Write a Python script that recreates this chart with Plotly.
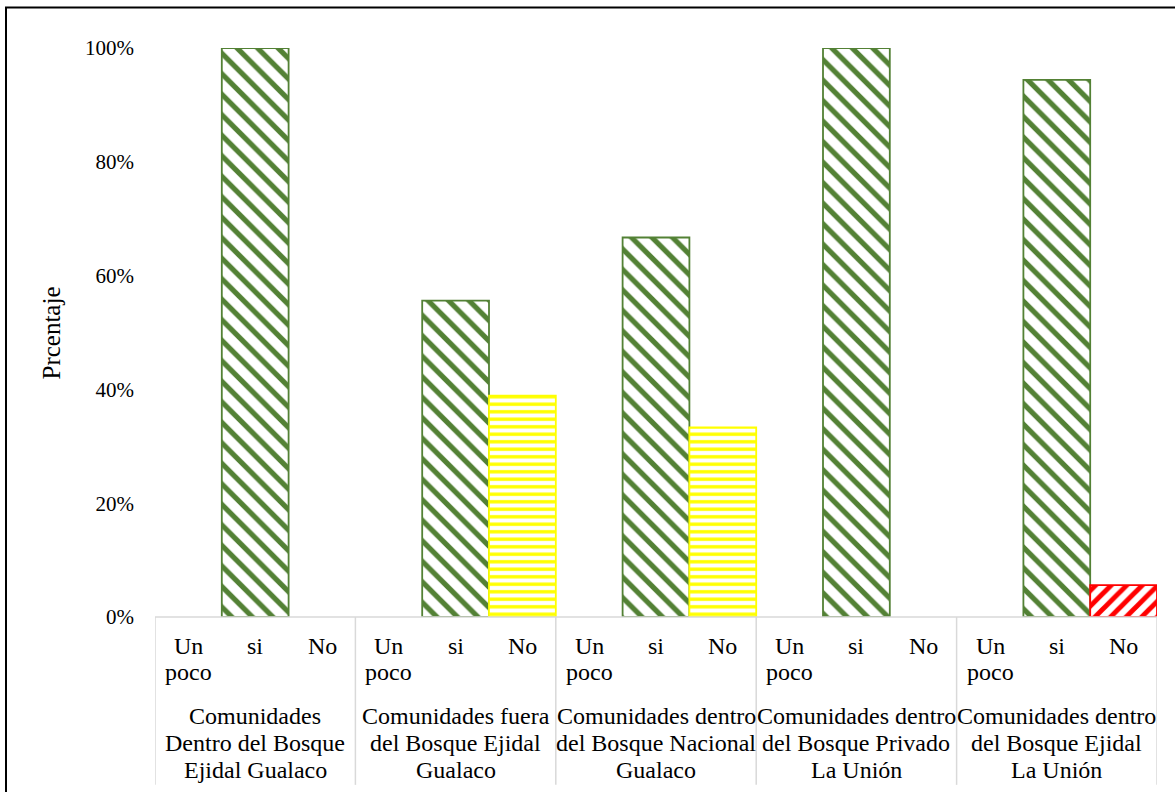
import plotly.graph_objects as go

# Survey groups (one entry per text line on the category axis)
groups = [
    ["Comunidades", "Dentro del Bosque", "Ejidal Gualaco"],
    ["Comunidades fuera", "del Bosque Ejidal", "Gualaco"],
    ["Comunidades dentro", "del Bosque Nacional", "Gualaco"],
    ["Comunidades dentro", "del Bosque Privado", "La Unión"],
    ["Comunidades dentro", "del Bosque Ejidal", "La Unión"],
]
answers = ["Un poco", "si", "No"]
answer_lines = [["Un", "poco"], ["si"], ["No"]]

# Share of answers per group
un_poco_values = [0.0, 0.0, 0.0, 0.0, 0.0]
si_values = [1.0, 0.556, 0.667, 1.0, 0.944]
no_values = [0.0, 0.389, 0.333, 0.0, 0.056]

y_ticks = [0, 0.2, 0.4, 0.6, 0.8, 1.0]
y_tick_text = ["0%", "20%", "40%", "60%", "80%", "100%"]
y_title = "Prcentaje"

# Styling
GREEN = "#538135"
YELLOW = "#FFFF00"
RED = "#FF0000"
FONT = "Liberation Serif"
TICK_FS = 21
CAT_FS = 24
TITLE_FS = 25
no_colors = [YELLOW, YELLOW, YELLOW, YELLOW, RED]
no_shapes = ["-", "-", "-", "-", "/"]
no_sizes = [7.5, 7.5, 7.5, 7.5, 11]
no_solid = [0.45, 0.45, 0.45, 0.45, 0.45]

n_ans = len(answers)
n_grp = len(groups)

# Plot-area geometry in pixels (used to convert label rows to paper units)
PLOT_TOP = 47.5
PLOT_BOTTOM = 617.0
PLOT_H = PLOT_BOTTOM - PLOT_TOP


def py(pixel_y):
    return (PLOT_BOTTOM - pixel_y) / PLOT_H


def slot(g, a):
    return g * n_ans + a


def visible(values):
    return [g for g, v in enumerate(values) if v > 0]


fig = go.Figure()

idx = visible(un_poco_values)
fig.add_trace(go.Bar(
    x=[slot(g, 0) for g in idx], y=[un_poco_values[g] for g in idx], width=1.0,
    name="Un poco", marker=dict(color="white", line=dict(color=GREEN, width=1.5)),
))

idx = visible(si_values)
fig.add_trace(go.Bar(
    x=[slot(g, 1) for g in idx], y=[si_values[g] for g in idx], width=1.0,
    name="si",
    marker=dict(
        color="white",
        line=dict(color=GREEN, width=1.8),
        pattern=dict(shape="\\", fgcolor=GREEN, fgopacity=1, bgcolor="white",
                     size=14.5, solidity=0.36, fillmode="overlay"),
    ),
))

idx = visible(no_values)
fig.add_trace(go.Bar(
    x=[slot(g, 2) for g in idx], y=[no_values[g] for g in idx], width=1.0,
    name="No",
    marker=dict(
        color="white",
        line=dict(color=[no_colors[g] for g in idx], width=1.8),
        pattern=dict(shape=[no_shapes[g] for g in idx],
                     fgcolor=[no_colors[g] for g in idx], fgopacity=1,
                     bgcolor="white",
                     size=[no_sizes[g] for g in idx],
                     solidity=[no_solid[g] for g in idx], fillmode="overlay"),
    ),
))

# Two-level category labels and group dividers
ANSWER_ROWS = [646, 672]
GROUP_ROWS = [716, 743, 770]
annotations = []
shapes = []


def label(x, ypix, text, size):
    return dict(
        x=x, y=py(ypix), xref="x", yref="paper", text=text, showarrow=False,
        xanchor="center", yanchor="middle",
        font=dict(family=FONT, size=size, color="black"),
    )


for g, glines in enumerate(groups):
    for a, lines in enumerate(answer_lines):
        for row, line in enumerate(lines):
            annotations.append(label(slot(g, a), ANSWER_ROWS[row], line, CAT_FS))
    for row, line in enumerate(glines):
        annotations.append(label(slot(g, 1), GROUP_ROWS[row], line, CAT_FS))

for k in range(n_grp + 1):
    xpos = k * n_ans - 0.5
    shapes.append(dict(
        type="line", xref="x", yref="paper", x0=xpos, x1=xpos, y0=0, y1=py(785),
        line=dict(color="#d9d9d9", width=1.5),
    ))

# Category axis baseline
shapes.append(dict(
    type="line", xref="paper", yref="paper", x0=0, x1=1, y0=0, y1=0,
    line=dict(color="#d9d9d9", width=1.5),
))

# Outer chart frame
shapes.append(dict(
    type="rect", xref="paper", yref="paper", x0=-0.1487, x1=1.05, y0=py(7), y1=-0.45,
    line=dict(color="black", width=2), fillcolor="rgba(0,0,0,0)", layer="above",
))

annotations.append(dict(
    x=-0.1028, y=0.5, xref="paper", yref="paper", text=y_title, textangle=-90,
    showarrow=False, xanchor="center", yanchor="middle",
    font=dict(family=FONT, size=TITLE_FS, color="black"),
))

fig.update_layout(
    width=1175, height=792,
    margin=dict(l=155, r=18, t=PLOT_TOP, b=792 - PLOT_BOTTOM),
    paper_bgcolor="white", plot_bgcolor="white",
    barmode="overlay", showlegend=False,
    xaxis=dict(range=[-0.5, n_grp * n_ans - 0.5], showticklabels=False,
               showgrid=False, zeroline=False, showline=False, fixedrange=True),
    yaxis=dict(range=[0, 1], tickvals=y_ticks, ticktext=y_tick_text,
               showgrid=False, zeroline=False, showline=False, ticks="",
               ticklabelstandoff=20,
               tickfont=dict(family=FONT, size=TICK_FS, color="black")),
    annotations=annotations, shapes=shapes,
)

fig.write_html("out.html")
